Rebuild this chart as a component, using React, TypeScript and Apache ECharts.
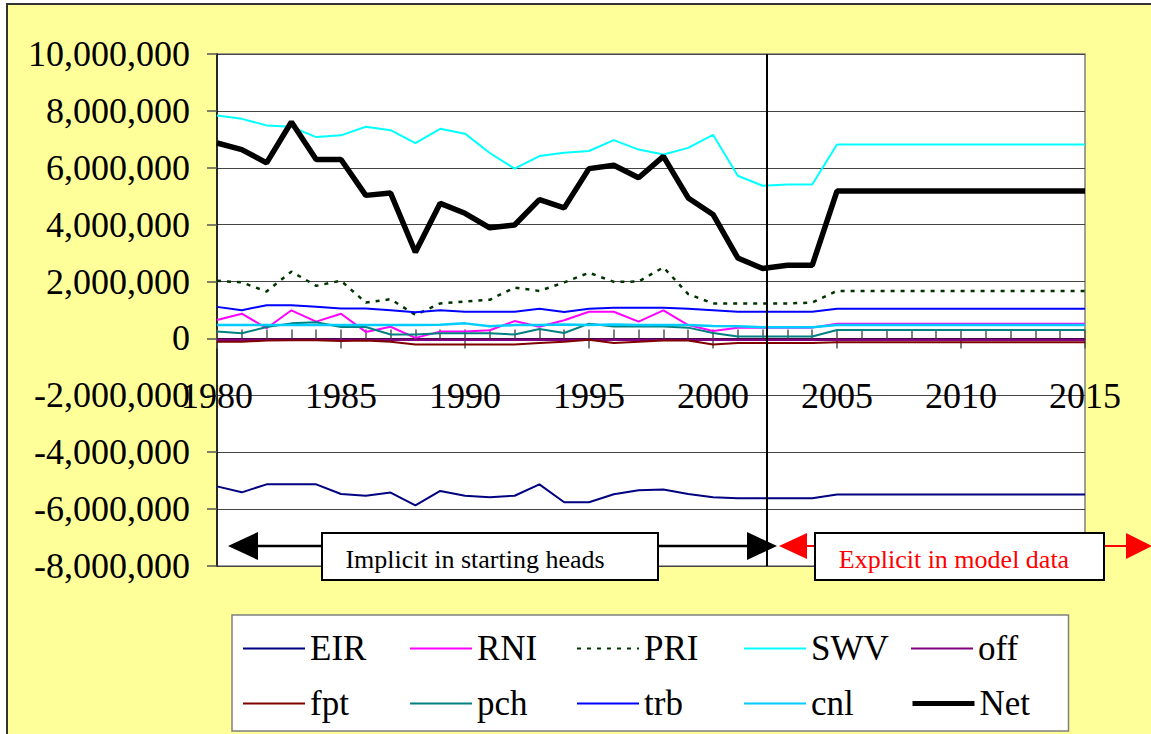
import { useEffect, useRef } from "react";
import * as echarts from "echarts";

const years = [
  1980, 1981, 1982, 1983, 1984, 1985, 1986, 1987, 1988, 1989, 1990, 1991,
  1992, 1993, 1994, 1995, 1996, 1997, 1998, 1999, 2000, 2001, 2002, 2003,
  2004, 2005, 2006, 2007, 2008, 2009, 2010, 2011, 2012, 2013, 2014, 2015,
];

const eir = [
  -5200000, -5410000, -5130000, -5130000, -5130000, -5470000, -5530000, -5420000,
  -5870000, -5360000, -5530000, -5580000, -5530000, -5130000, -5760000, -5760000,
  -5480000, -5340000, -5310000, -5470000, -5580000, -5620000, -5620000, -5620000,
  -5620000, -5490000, -5490000, -5490000, -5490000, -5490000, -5490000, -5490000,
  -5490000, -5490000, -5490000, -5490000,
];
const rni = [
  650000, 870000, 360000, 990000, 590000, 870000, 230000, 410000, 20000, 240000,
  240000, 290000, 610000, 410000, 640000, 940000, 940000, 590000, 990000, 470000,
  260000, 380000, 380000, 380000, 380000, 520000, 520000, 520000, 520000, 520000,
  520000, 520000, 520000, 520000, 520000, 520000,
];
const pri = [
  2030000, 1970000, 1650000, 2350000, 1850000, 2030000, 1260000, 1380000, 830000,
  1230000, 1300000, 1360000, 1790000, 1670000, 1970000, 2310000, 1990000, 2000000,
  2500000, 1560000, 1230000, 1230000, 1230000, 1230000, 1260000, 1670000, 1670000,
  1670000, 1670000, 1670000, 1670000, 1670000, 1670000, 1670000, 1670000, 1670000,
];
const swv = [
  7840000, 7720000, 7490000, 7440000, 7080000, 7140000, 7440000, 7320000, 6870000,
  7370000, 7200000, 6520000, 5970000, 6410000, 6530000, 6590000, 6970000, 6640000,
  6470000, 6700000, 7160000, 5720000, 5370000, 5410000, 5410000, 6820000, 6820000,
  6820000, 6820000, 6820000, 6820000, 6820000, 6820000, 6820000, 6820000, 6820000,
];
const off = [
  -50000, -50000, -50000, -50000, -50000, -50000, -50000, -50000, -50000, -50000,
  -50000, -50000, -50000, -50000, -50000, -50000, -50000, -50000, -50000, -50000,
  -50000, -50000, -50000, -50000, -50000, -50000, -50000, -50000, -50000, -50000,
  -50000, -50000, -50000, -50000, -50000, -50000,
];
const fpt = [
  -120000, -120000, -70000, -60000, -60000, -90000, -70000, -120000, -210000,
  -210000, -210000, -210000, -210000, -160000, -120000, -50000, -160000, -120000,
  -70000, -70000, -210000, -160000, -160000, -160000, -160000, -130000, -130000,
  -130000, -130000, -130000, -130000, -130000, -130000, -130000, -130000, -130000,
];
const pch = [
  240000, 180000, 400000, 530000, 570000, 400000, 400000, 140000, 140000, 180000,
  180000, 180000, 140000, 330000, 190000, 520000, 420000, 420000, 420000, 380000,
  190000, 70000, 70000, 70000, 70000, 300000, 300000, 300000, 300000, 300000,
  300000, 300000, 300000, 300000, 300000, 300000,
];
const trb = [
  1110000, 990000, 1170000, 1170000, 1110000, 1050000, 1050000, 990000, 920000,
  990000, 940000, 940000, 940000, 1040000, 930000, 1040000, 1080000, 1080000,
  1080000, 1040000, 990000, 940000, 940000, 940000, 940000, 1040000, 1040000,
  1040000, 1040000, 1040000, 1040000, 1040000, 1040000, 1040000, 1040000, 1040000,
];
const cnl = [
  470000, 470000, 470000, 470000, 470000, 470000, 470000, 470000, 470000, 480000,
  530000, 430000, 470000, 470000, 490000, 470000, 490000, 470000, 470000, 470000,
  440000, 430000, 390000, 390000, 390000, 470000, 470000, 470000, 470000, 470000,
  470000, 470000, 470000, 470000, 470000, 470000,
];
const net = [
  6870000, 6640000, 6170000, 7610000, 6290000, 6290000, 5030000, 5110000, 3030000,
  4750000, 4400000, 3890000, 3990000, 4880000, 4590000, 5970000, 6090000, 5650000,
  6400000, 4940000, 4360000, 2830000, 2460000, 2570000, 2570000, 5180000, 5180000,
  5180000, 5180000, 5180000, 5180000, 5180000, 5180000, 5180000, 5180000, 5180000,
];

// year where the model switches from implicit to explicit data
const splitYear = 2002.15;

const SERIF = "Liberation Serif";

const seriesDefs = [
  { name: "EIR", data: eir, color: "#000080", width: 2 },
  { name: "RNI", data: rni, color: "#FF00FF", width: 2 },
  { name: "PRI", data: pri, color: "#003300", width: 2.5, dash: [4, 6] },
  { name: "SWV", data: swv, color: "#00FFFF", width: 2 },
  { name: "off", data: off, color: "#800080", width: 2.5 },
  { name: "fpt", data: fpt, color: "#800000", width: 2 },
  { name: "pch", data: pch, color: "#008080", width: 2 },
  { name: "trb", data: trb, color: "#0000FF", width: 2 },
  { name: "cnl", data: cnl, color: "#00CCFF", width: 2.5 },
  { name: "Net", data: net, color: "#000000", width: 5.5 },
];

function buildOption(): echarts.EChartsOption {
  const series = seriesDefs.map((s) => {
    const item: any = {
      name: s.name,
      type: "line",
      xAxisIndex: 0,
      yAxisIndex: 0,
      symbol: "none",
      data: years.map((y, i) => [y, s.data[i]]),
      lineStyle: { color: s.color, width: s.width, type: s.dash ?? "solid" },
      itemStyle: { color: s.color },
    };
    if (s.name === "Net") {
      item.markLine = {
        silent: true,
        symbol: ["none", "none"],
        label: { show: false },
        lineStyle: { color: "#000", width: 2, type: "solid" },
        data: [{ xAxis: splitYear }],
      };
    }
    return item;
  });

  const tickStyle = { color: "#555", width: 1.5 };

  return {
    animation: false,
    backgroundColor: "#fff",
    textStyle: { fontFamily: SERIF },
    grid: {
      left: 217,
      top: 54,
      width: 868,
      height: 512,
      show: true,
      backgroundColor: "#fff",
      borderColor: "#808080",
      borderWidth: 1.5,
    },
    xAxis: [
      {
        // axis line on zero with the 5-year ticks
        type: "value",
        min: 1980,
        max: 2015,
        interval: 5,
        axisLine: { onZero: true, onZeroAxisIndex: 0, lineStyle: { color: "#000", width: 1.5 } },
        axisTick: { show: true, length: 10, lineStyle: tickStyle },
        axisLabel: { show: false },
        splitLine: { show: false },
      },
      {
        // yearly ticks pointing up from the zero line
        type: "value",
        min: 1980,
        max: 2015,
        interval: 1,
        position: "bottom",
        axisLine: { show: false, onZero: true, onZeroAxisIndex: 0 },
        axisTick: { show: true, inside: true, length: 9, lineStyle: tickStyle },
        axisLabel: { show: false },
        splitLine: { show: false },
      },
      {
        // year labels, sitting at the -2,000,000 level as in the original
        type: "value",
        min: 1980,
        max: 2015,
        interval: 5,
        position: "bottom",
        offset: -188,
        axisLine: { show: false, onZero: false },
        axisTick: { show: false },
        axisLabel: {
          margin: 0,
          fontSize: 36,
          fontFamily: SERIF,
          color: "#000",
          formatter: (v: number) => String(v),
        },
        splitLine: { show: false },
      },
    ],
    yAxis: {
      type: "value",
      min: -8000000,
      max: 10000000,
      interval: 2000000,
      axisLine: { show: true, lineStyle: { color: "#000", width: 1.5 } },
      axisTick: { show: true, length: 10, lineStyle: tickStyle },
      axisLabel: {
        margin: 27,
        fontSize: 36,
        fontFamily: SERIF,
        color: "#000",
        formatter: (v: number) => v.toLocaleString("en-US"),
      },
      splitLine: { show: true, lineStyle: { color: "#444", width: 1 } },
    },
    legend: {
      data: seriesDefs.map((s) => ({
        name: s.name,
        lineStyle: { width: s.name === "Net" ? 5 : 2 },
      })),
      left: 232,
      top: 615,
      width: 820,
      orient: "horizontal",
      padding: [16, 10, 10, 10],
      backgroundColor: "#fff",
      borderColor: "#808080",
      borderWidth: 1.5,
      itemWidth: 62,
      itemHeight: 14,
      itemGap: 20,
      itemStyle: { opacity: 0 },
      formatter: (name: string) => `{t|${name}}`,
      textStyle: {
        fontFamily: SERIF,
        fontSize: 35,
        color: "#000",
        rich: {
          t: {
            fontFamily: SERIF,
            fontSize: 35,
            color: "#000",
            width: 79,
            lineHeight: 35,
          },
        },
      },
    },
    graphic: [
      {
        type: "rect",
        z: -10,
        shape: { x: 7, y: 4, width: 1170, height: 760 },
        style: { fill: "#FFFF99", stroke: "#333", lineWidth: 2 },
      },
      // implicit arrow
      {
        type: "line",
        z: 100,
        shape: { x1: 240, y1: 546, x2: 765, y2: 546 },
        style: { stroke: "#000", lineWidth: 2.5 },
      },
      {
        type: "polygon",
        z: 100,
        shape: { points: [[228, 546], [258, 532], [258, 560]] },
        style: { fill: "#000" },
      },
      {
        type: "polygon",
        z: 100,
        shape: { points: [[777, 546], [747, 532], [747, 560]] },
        style: { fill: "#000" },
      },
      {
        type: "rect",
        z: 101,
        shape: { x: 322, y: 533, width: 336, height: 47 },
        style: { fill: "#fff", stroke: "#000", lineWidth: 2 },
      },
      {
        type: "text",
        z: 102,
        x: 475,
        y: 559,
        style: {
          text: "Implicit in starting heads",
          fontSize: 26,
          fontFamily: SERIF,
          fill: "#000",
          align: "center",
          verticalAlign: "middle",
        },
      },
      // explicit arrow
      {
        type: "line",
        z: 100,
        shape: { x1: 790, y1: 546, x2: 1140, y2: 546 },
        style: { stroke: "#FF0000", lineWidth: 2 },
      },
      {
        type: "polygon",
        z: 100,
        shape: { points: [[779, 546], [807, 533], [807, 559]] },
        style: { fill: "#FF0000" },
      },
      {
        type: "polygon",
        z: 100,
        shape: { points: [[1152, 546], [1126, 533], [1126, 559]] },
        style: { fill: "#FF0000" },
      },
      {
        type: "rect",
        z: 101,
        shape: { x: 815, y: 533, width: 289, height: 47 },
        style: { fill: "#fff", stroke: "#000", lineWidth: 2 },
      },
      {
        type: "text",
        z: 102,
        x: 954,
        y: 559,
        style: {
          text: "Explicit in model data",
          fontSize: 26,
          fontFamily: SERIF,
          fill: "#FF0000",
          align: "center",
          verticalAlign: "middle",
        },
      },
    ],
    series,
  };
}

function WaterBudgetChart() {
  const ref = useRef<HTMLDivElement | null>(null);

  useEffect(() => {
    const el = ref.current;
    if (!el) {
      return undefined;
    }
    const chart = echarts.init(el, undefined, { renderer: "svg" });
    chart.setOption(buildOption());
    return () => {
      chart.dispose();
    };
  }, []);

  return <div ref={ref} style={{ width: 1151, height: 734 }} />;
}

export default function App() {
  return (
    <div style={{ position: "fixed", left: 0, top: 0, width: 1151, height: 734, background: "#fff" }}>
      <WaterBudgetChart />
    </div>
  );
}
